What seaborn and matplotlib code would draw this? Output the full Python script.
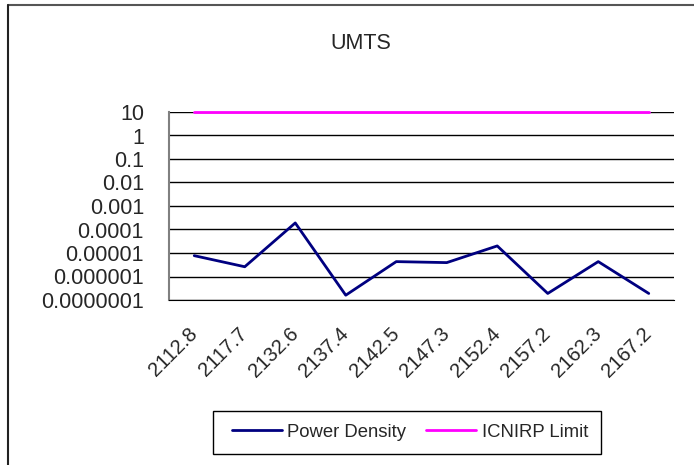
import numpy as np
import pandas as pd
import matplotlib
matplotlib.use('Agg')
import matplotlib.pyplot as plt
import matplotlib.ticker as mticker
from matplotlib.lines import Line2D
from matplotlib.patches import Rectangle
import seaborn as sns

# values
frequencies = ['2112.8', '2117.7', '2132.6', '2137.4', '2142.5',
               '2147.3', '2152.4', '2157.2', '2162.3', '2167.2']
power_density = [7.7e-6, 2.6e-6, 1.9e-4, 1.6e-7, 4.3e-6,
                 3.9e-6, 2.0e-5, 1.9e-7, 4.3e-6, 1.9e-7]
icnirp_limit = [10] * 10
ytick_values = [1e-7, 1e-6, 1e-5, 1e-4, 1e-3, 1e-2, 1e-1, 1, 10]
ytick_labels = ['0.0000001', '0.000001', '0.00001', '0.0001', '0.001',
                '0.01', '0.1', '1', '10']

sns.set_style('white')
plt.rcParams['font.family'] = ['Liberation Sans', 'DejaVu Sans']

data = pd.DataFrame({
    'x': list(range(len(frequencies))) * 2,
    'value': power_density + icnirp_limit,
    'series': ['Power Density'] * 10 + ['ICNIRP Limit'] * 10,
})

fig = plt.figure(figsize=(6.94, 4.65), dpi=100)
ax = fig.add_axes([169 / 694, 1 - 300 / 465, 505 / 694, 188 / 465])

sns.lineplot(data=data, x='x', y='value', hue='series',
             palette={'Power Density': '#000080', 'ICNIRP Limit': '#ff00ff'},
             linewidth=2, ax=ax, legend=False, clip_on=False)

ax.set_yscale('log')
ax.set_ylim(1e-7, 10)
ax.set_xlim(-0.5, len(frequencies) - 0.5)
ax.yaxis.set_major_locator(mticker.FixedLocator(ytick_values))
ax.yaxis.set_major_formatter(mticker.FixedFormatter(ytick_labels))
ax.yaxis.set_minor_locator(mticker.NullLocator())
ax.grid(axis='y', color='black', linewidth=1)

# category boundaries get tick marks, labels sit at the centres
ax.xaxis.set_major_locator(mticker.FixedLocator(np.arange(-0.5, len(frequencies), 1)))
ax.xaxis.set_major_formatter(mticker.NullFormatter())
ax.xaxis.set_minor_locator(mticker.FixedLocator(range(len(frequencies))))
ax.xaxis.set_minor_formatter(mticker.FixedFormatter(frequencies))
ax.tick_params(axis='x', which='major', direction='out', length=6, width=1, color='black')
ax.tick_params(axis='x', which='minor', length=0, labelsize=14.5, pad=22)
ax.tick_params(axis='y', direction='out', length=6, width=1, color='gray', labelsize=15.5, pad=12)
for lab in ax.get_xticklabels(minor=True):
    lab.set_rotation(45)
    lab.set_ha('right')
    lab.set_va('center')
    lab.set_rotation_mode('anchor')
ax.set_xlabel('')
ax.set_ylabel('')

for side in ['top', 'right']:
    ax.spines[side].set_visible(False)
ax.spines['left'].set_color('gray')
ax.spines['left'].set_linewidth(1.5)
ax.spines['bottom'].set_color('black')

fig.text(361 / 694, 1 - 43 / 465, 'UMTS', ha='center', va='center', fontsize=15.5)

handles = [Line2D([], [], color='#000080', linewidth=2),
           Line2D([], [], color='#ff00ff', linewidth=2)]
fig.legend(handles, ['Power Density', 'ICNIRP Limit'], ncol=2,
           loc='center', bbox_to_anchor=(410 / 694, 1 - 432 / 465),
           frameon=False, fontsize=13.3, handlelength=2.7, handletextpad=0.3,
           columnspacing=1.1)
fig.add_artist(Rectangle((213 / 694, 1 - 454 / 465), 388 / 694, 43 / 465,
                         transform=fig.transFigure, fill=False,
                         edgecolor='black', linewidth=1))

# chart area frame (top and left edges visible)
fig.add_artist(Line2D([8 / 694, 1], [1 - 5 / 465, 1 - 5 / 465],
                      transform=fig.transFigure, color='#555555', linewidth=1.5))
fig.add_artist(Line2D([8 / 694, 8 / 694], [0, 1 - 5 / 465],
                      transform=fig.transFigure, color='#222222', linewidth=1.5))

fig.savefig('out.png', dpi=100)
